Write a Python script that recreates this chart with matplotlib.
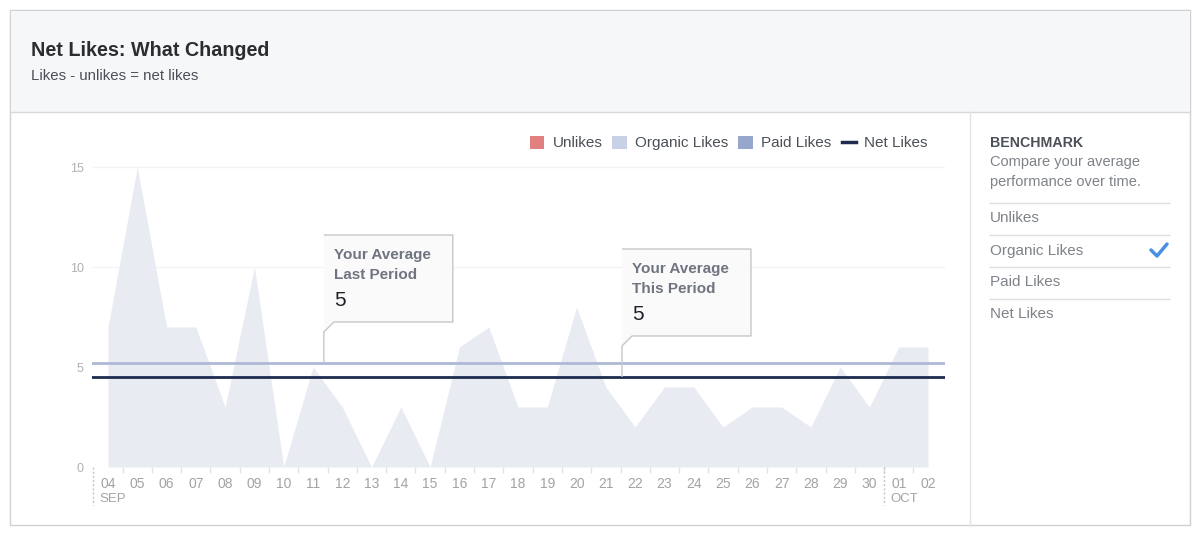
import matplotlib
matplotlib.use("Agg")
import matplotlib.pyplot as plt
from matplotlib.patches import Rectangle, Polygon, Patch
from matplotlib.lines import Line2D
from matplotlib.transforms import IdentityTransform

plt.rcParams['font.family'] = ['Liberation Sans', 'DejaVu Sans']

# datos
dias = ["04", "05", "06", "07", "08", "09", "10", "11", "12", "13", "14", "15",
        "16", "17", "18", "19", "20", "21", "22", "23", "24", "25", "26", "27",
        "28", "29", "30", "01", "02"]
organic_likes = [7, 15, 7, 7, 3, 10, 0, 5, 3, 0, 3, 0, 6, 7, 3, 3, 8, 4, 2, 4,
                 4, 2, 3, 3, 2, 5, 3, 6, 6]
promedio_anterior = 5.2
promedio_actual = 4.5
meses = ["SEP", "OCT"]
inicio_mes = [-0.5, 26.5]
yticks = [0, 5, 10, 15]
benchmark_items = ["Unlikes", "Organic Likes", "Paid Likes", "Net Likes"]

W, H = 1200, 535
fig = plt.figure(figsize=(12, 5.35), dpi=100)
fig.patch.set_facecolor("white")


def px(x, y):
    """pixel (desde arriba a la izquierda) a fracción de figura"""
    return x / W, 1 - y / H


def caja(x0, y0, x1, y1, **kw):
    fx0, fy1 = px(x0, y1)
    fx1, fy0 = px(x1, y0)
    fig.patches.append(Rectangle((fx0, fy1), fx1 - fx0, fy0 - fy1,
                                 transform=fig.transFigure, **kw))


def linea(xs, ys, **kw):
    pts = [px(x, y) for x, y in zip(xs, ys)]
    fig.add_artist(Line2D([p[0] for p in pts], [p[1] for p in pts],
                          transform=fig.transFigure, **kw))


# tarjeta y encabezado
caja(10, 10, 1190, 525, facecolor="white", edgecolor="#cfd1d5", lw=1, zorder=0)
caja(10.5, 10.5, 1189.5, 112, facecolor="#f6f7f9", edgecolor="none", zorder=0)
linea([10, 1190], [112, 112], color="#d6d8dc", lw=1)
linea([970, 970], [112, 525], color="#e3e4e7", lw=1)

fig.text(*px(31, 51), "Net Likes: What Changed", fontsize=14.2, fontweight="bold",
         color="#2b2d31", va="center")
fig.text(*px(31, 76), "Likes - unlikes = net likes", fontsize=10.8,
         color="#4b4f56", va="center")

# eje principal
ax = fig.add_axes([92 / W, (H - 467) / H, 853 / W, 310 / H])
ax.set_zorder(2)
ax.patch.set_alpha(0)
ax.set_xlim(-0.546, 28.58)
ax.set_ylim(0, 15.5)
x = list(range(len(dias)))
ax.fill_between(x, organic_likes, 0, color="#e9ebf3", lw=0, zorder=1)
for v in [10, 15]:
    ax.axhline(v, color="#f3f3f5", lw=1, zorder=0)
ax.axhline(promedio_anterior, color="#aeb9d6", lw=2, zorder=3)
ax.axhline(promedio_actual, color="#1d2b4f", lw=2, zorder=3)

for s in ax.spines.values():
    s.set_visible(False)
ax.set_yticks(yticks)
ax.set_yticklabels([str(v) for v in yticks])
ax.tick_params(axis="y", length=0, pad=6, labelsize=9, labelcolor="#b0b0b0")
ax.set_xticks(x)
ax.set_xticklabels(dias)
ax.tick_params(axis="x", which="major", length=0, pad=7, labelsize=10,
               labelcolor="#a3a3a3")
ax.set_xticks([i + 0.5 for i in x[:-1]], minor=True)
ax.tick_params(axis="x", which="minor", length=4, color="#e2e2e2", width=1)

for m, pos in zip(meses, inicio_mes):
    ax.plot([pos, pos], [0, -1.9], ls=(0, (1.5, 1.5)), color="#c4c4c4", lw=1,
            clip_on=False)
    ax.text(pos + 0.2, -1.6, m, fontsize=9.5, color="#a3a3a3", va="center",
            ha="left", clip_on=False)

# leyenda
handles = [Patch(facecolor="#e27f7f", edgecolor="none", label="Unlikes"),
           Patch(facecolor="#c9d1e6", edgecolor="none", label="Organic Likes"),
           Patch(facecolor="#96a6cd", edgecolor="none", label="Paid Likes"),
           Line2D([], [], color="#1d2b4f", lw=2.5, label="Net Likes")]
leg = fig.legend(handles=handles, loc="center right", bbox_to_anchor=px(928, 143),
                 ncol=4, frameon=False, fontsize=11, handlelength=0.95,
                 handleheight=0.95, handletextpad=0.55, columnspacing=0.65,
                 labelcolor="#4b4f56", borderaxespad=0, borderpad=0)
leg.set_zorder(3)

# globos de promedio
fig.canvas.draw()


def globo(xd, yd, alto, lineas, valor):
    tx, ty = ax.transData.transform((xd, yd))
    top = ty + alto
    bot = top - 87
    pts = [(tx, top), (tx + 129, top), (tx + 129, bot), (tx + 10, bot),
           (tx, bot - 10), (tx, ty)]
    fig.add_artist(Polygon(pts, closed=False, transform=IdentityTransform(),
                           facecolor="#fafafa", edgecolor="#c6c7ca", lw=1,
                           joinstyle="round", zorder=5))
    fx, fy = tx / W, top / H
    fig.text(fx + 10 / W, fy - 20 / H, lineas[0], fontsize=11, fontweight="bold",
             color="#6f7480", va="center", zorder=6)
    fig.text(fx + 10 / W, fy - 40 / H, lineas[1], fontsize=11, fontweight="bold",
             color="#6f7480", va="center", zorder=6)
    fig.text(fx + 10 / W, fy - 65 / H, valor, fontsize=15,
             color="#1d2129", va="center", zorder=6)


globo(7.37, promedio_anterior, 128, ["Your Average", "Last Period"], "5")
globo(17.55, promedio_actual, 128, ["Your Average", "This Period"], "5")

# panel benchmark
fig.text(*px(990, 143), "BENCHMARK", fontsize=10.2, fontweight="bold",
         color="#4b4f56", va="center")
fig.text(*px(990, 162), "Compare your average", fontsize=10.5,
         color="#7f8289", va="center")
fig.text(*px(990, 182), "performance over time.", fontsize=10.5,
         color="#7f8289", va="center")
for i, item in enumerate(benchmark_items):
    y0 = 203 + 32 * i
    linea([990, 1169], [y0, y0], color="#dddfe2", lw=1)
    fig.text(*px(990, y0 + 15.5), item, fontsize=11, color="#7f8289",
             va="center")
linea([1151, 1157, 1167], [250, 256, 244], color="#4a90e2", lw=2.5,
      solid_capstyle="round")

fig.savefig("out.png", dpi=100)
